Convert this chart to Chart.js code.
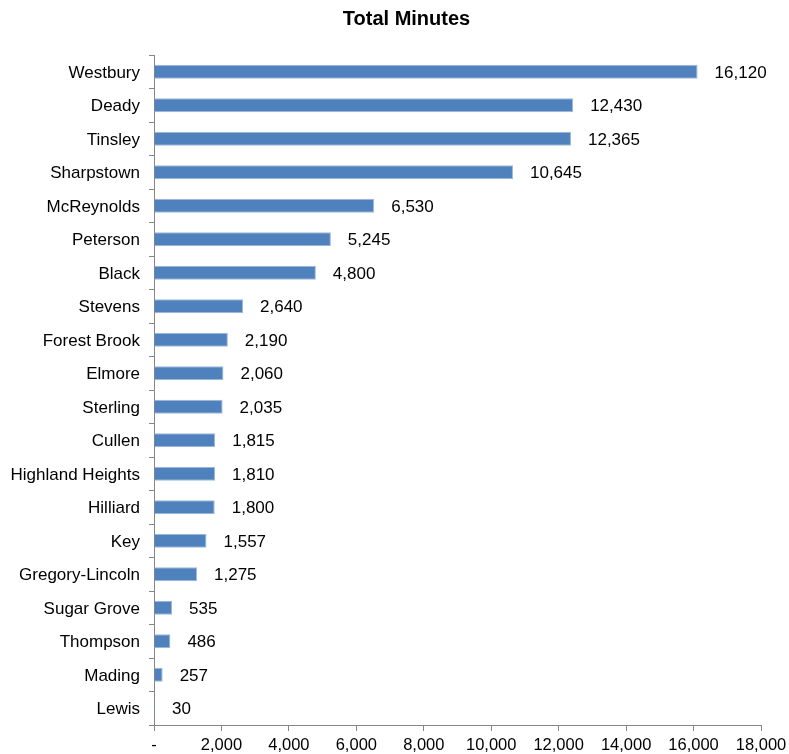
<!DOCTYPE html>
<html>
<head>
<meta charset="utf-8">
<title>Total Minutes</title>
<script src="https://cdn.jsdelivr.net/npm/chart.js@4/dist/chart.umd.min.js"></script>
<style>
  html, body { margin: 0; padding: 0; background: #fff; }
  #chart-wrap { width: 789px; height: 754px; }
</style>
</head>
<body>
<div id="chart-wrap"><canvas id="minutes-chart" width="789" height="754"></canvas></div>
<script>
const schools = [
  'Westbury', 'Deady', 'Tinsley', 'Sharpstown', 'McReynolds', 'Peterson', 'Black',
  'Stevens', 'Forest Brook', 'Elmore', 'Sterling', 'Cullen', 'Highland Heights',
  'Hilliard', 'Key', 'Gregory-Lincoln', 'Sugar Grove', 'Thompson', 'Mading', 'Lewis'
];
const totalMinutes = [
  16120, 12430, 12365, 10645, 6530, 5245, 4800,
  2640, 2190, 2060, 2035, 1815, 1810,
  1800, 1557, 1275, 535, 486, 257, 30
];
const xMin = 0;
const xMax = 18000;
const xStep = 2000;

const fontFamily = 'Arial, "Liberation Sans", sans-serif';
const labelFont = { family: fontFamily, size: 17 };
const tickFont = { family: fontFamily, size: 16.5 };

function formatNumber(value) {
  return value.toLocaleString('en-US');
}

// writes the value just past the end of each bar
const valueLabels = {
  id: 'valueLabels',
  afterDatasetsDraw(chart) {
    const ctx = chart.ctx;
    const meta = chart.getDatasetMeta(0);
    ctx.save();
    ctx.font = labelFont.size + 'px ' + labelFont.family;
    ctx.fillStyle = '#000';
    ctx.textAlign = 'left';
    ctx.textBaseline = 'middle';
    meta.data.forEach((bar, i) => {
      ctx.fillText(formatNumber(totalMinutes[i]), bar.x + 17, bar.y + 1.5);
    });
    ctx.restore();
  }
};

const ctx = document.getElementById('minutes-chart').getContext('2d');
new Chart(ctx, {
  type: 'bar',
  data: {
    labels: schools,
    datasets: [{
      label: 'Total Minutes',
      data: totalMinutes,
      backgroundColor: '#4F81BD',
      borderColor: '#9FB8DA',
      borderWidth: 1,
      categoryPercentage: 0.42,
      barPercentage: 1
    }]
  },
  options: {
    indexAxis: 'y',
    responsive: false,
    animation: false,
    // negative right padding only nudges the title to the right, like the original
    layout: { padding: { left: 0, right: -24, top: 0, bottom: 0 } },
    plugins: {
      legend: { display: false },
      tooltip: { enabled: false },
      title: {
        display: true,
        text: 'Total Minutes',
        color: '#000',
        font: { family: fontFamily, size: 20, weight: 'bold' },
        padding: { top: 7, bottom: 24 }
      }
    },
    scales: {
      x: {
        min: xMin,
        max: xMax,
        afterFit(scale) {
          scale.height = 29;
          scale.paddingRight = 28;
        },
        afterBuildTicks(scale) {
          const ticks = [];
          for (let v = xMin; v <= xMax; v += xStep) ticks.push({ value: v });
          scale.ticks = ticks;
        },
        border: { display: true, color: '#868686', width: 1 },
        grid: {
          drawOnChartArea: false,
          drawTicks: true,
          tickLength: 6,
          color: '#868686'
        },
        ticks: {
          color: '#000',
          font: tickFont,
          padding: 5,
          maxRotation: 0,
          autoSkip: false,
          callback: value => value === 0 ? '-' : formatNumber(value)
        }
      },
      y: {
        afterFit(scale) {
          scale.width = 154;
        },
        border: { display: true, color: '#868686', width: 1 },
        grid: {
          offset: true,
          drawOnChartArea: false,
          drawTicks: true,
          tickLength: 5,
          color: '#868686'
        },
        ticks: {
          color: '#000',
          font: labelFont,
          padding: 9,
          labelOffset: 1.5,
          autoSkip: false
        }
      }
    }
  },
  plugins: [valueLabels]
});
</script>
</body>
</html>
